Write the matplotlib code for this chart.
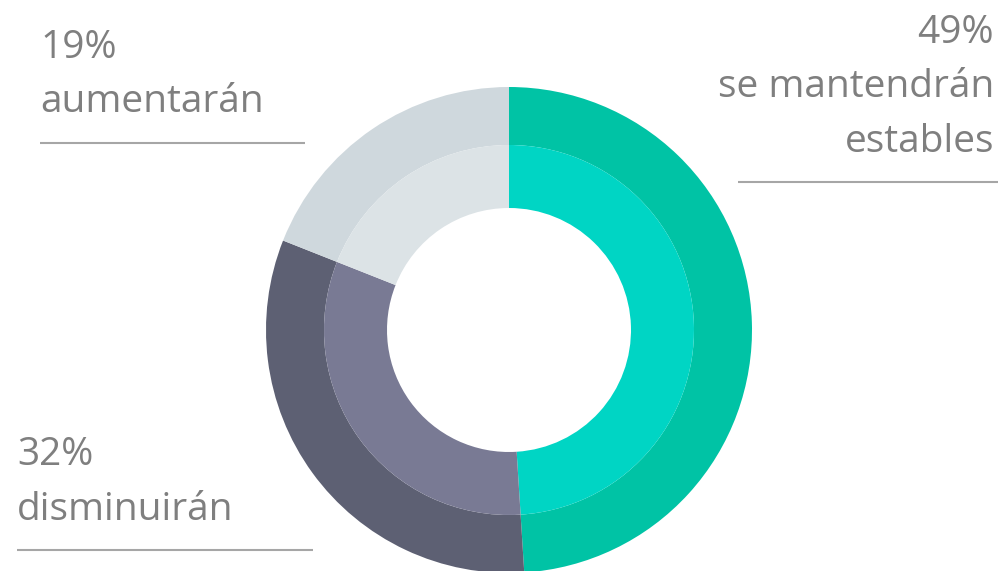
import matplotlib.pyplot as plt

# Data
categories = ["se mantendrán estables", "disminuirán", "aumentarán"]
values = [49, 32, 19]
outer_colors = ["#00C3A5", "#5D6073", "#CFD8DD"]
inner_colors = ["#00D5C4", "#797A94", "#DCE3E6"]

label_lines = {
    "se mantendrán estables": ["49%", "se mantendrán", "estables"],
    "disminuirán": ["32%", "disminuirán"],
    "aumentarán": ["19%", "aumentarán"],
}

W, H = 998, 571
fig = plt.figure(figsize=(W / 100, H / 100), dpi=100)
ax = fig.add_axes([0, 0, 1, 1])

cx, cy = 509, H - 330
r_out, r_mid, r_in = 243, 185, 122

ax.pie(values, colors=outer_colors, radius=r_out, center=(cx, cy),
       startangle=90, counterclock=False, frame=True,
       wedgeprops=dict(width=r_out - r_mid, edgecolor="none"))
ax.pie(values, colors=inner_colors, radius=r_mid, center=(cx, cy),
       startangle=90, counterclock=False, frame=True,
       wedgeprops=dict(width=r_mid - r_in, edgecolor="none"))
ax.set_xlim(0, W)
ax.set_ylim(0, H)
ax.set_aspect("equal")
ax.axis("off")

text_color = "#7F7F7F"
line_color = "#A6A6A6"
font = dict(family="Open Sans", fontsize=28, color=text_color)

# label blocks: x, alignment, baselines, underline y and extent
blocks = [
    ("aumentarán", 40, "left", [58, 112], 143, (40, 305)),
    ("se mantendrán estables", 994, "right", [43, 97, 152], 182, (738, 998)),
    ("disminuirán", 17, "left", [465, 520], 550, (17, 313)),
]
for key, x, ha, baselines, ly, (x0, x1) in blocks:
    for txt, b in zip(label_lines[key], baselines):
        ax.text(x, H - b, txt, ha=ha, va="baseline", **font)
    ax.plot([x0, x1], [H - ly, H - ly], color=line_color, lw=1.5,
            solid_capstyle="butt")

fig.savefig("out.png", dpi=100)
